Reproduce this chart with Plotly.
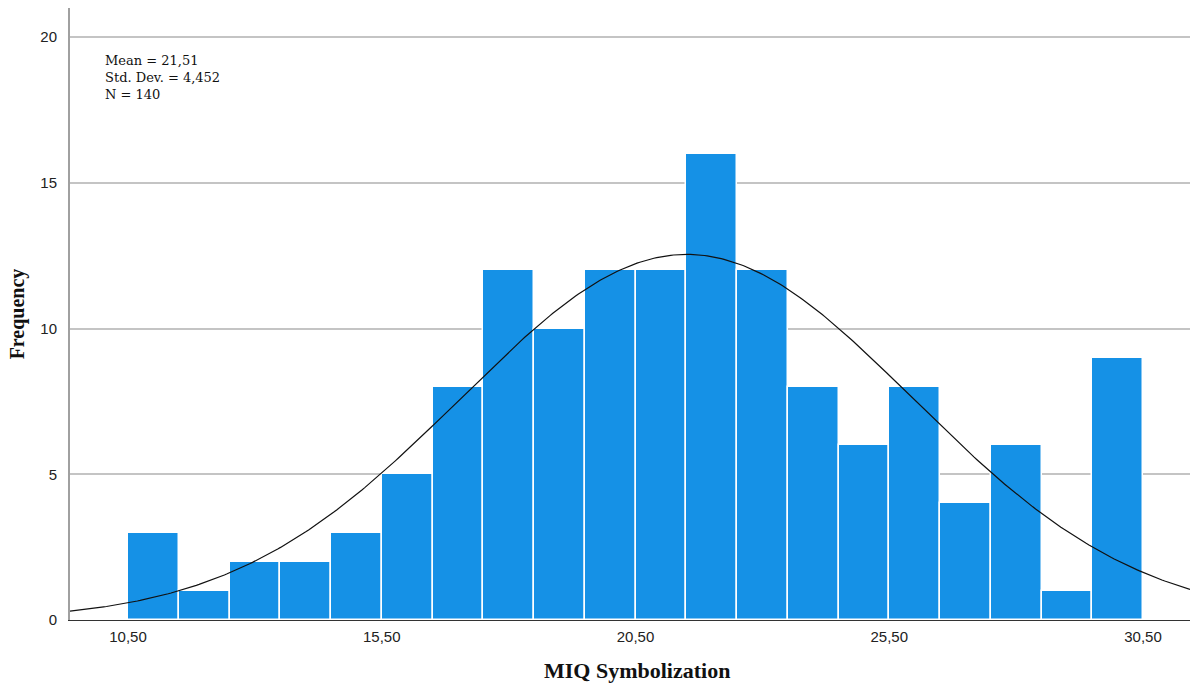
import numpy as np
import plotly.graph_objects as go

bin_centers = [11, 12, 13, 14, 15, 16, 17, 18, 19, 20, 21, 22, 23, 24, 25, 26, 27, 28, 29, 30]
counts = [3, 1, 2, 2, 3, 5, 8, 12, 10, 12, 12, 16, 12, 8, 6, 8, 4, 6, 1, 9]
mean_val = 21.51
sd_val = 4.452
n_val = 140
bin_width = 1.0
tick_vals = [10.5, 15.5, 20.5, 25.5, 30.5]
tick_text = ["10,50", "15,50", "20,50", "25,50", "30,50"]
y_ticks = [0, 5, 10, 15, 20]

x_min, x_max = 9.357, 31.426
xs = np.linspace(x_min, x_max, 400)
ys = n_val * bin_width / (sd_val * np.sqrt(2 * np.pi)) * np.exp(-0.5 * ((xs - mean_val) / sd_val) ** 2)

L, T, W, H, B = 70, 8, 1190, 684, 64
pw, ph = W - L, H - T - B

fig = go.Figure()
fig.add_trace(go.Bar(
    x=bin_centers, y=counts, width=bin_width,
    marker=dict(color="#1591E6", line=dict(color="white", width=1.5)),
    showlegend=False, hoverinfo="skip",
))
fig.add_trace(go.Scatter(
    x=xs, y=ys, mode="lines", line=dict(color="#111111", width=1.2),
    showlegend=False, hoverinfo="skip",
))

fig.update_layout(
    width=W, height=H,
    margin=dict(l=L, r=0, t=T, b=B),
    paper_bgcolor="white", plot_bgcolor="white",
    bargap=0,
    xaxis=dict(
        range=[x_min, x_max], tickvals=tick_vals, ticktext=tick_text,
        showgrid=False, zeroline=False, showline=True, linecolor="#333333", linewidth=1,
        ticks="", ticklabelstandoff=3,
        tickfont=dict(family="Liberation Sans, Arial", size=15, color="#222222"),
    ),
    yaxis=dict(
        range=[0, 21], tickvals=y_ticks, showgrid=True, gridcolor="#c4c4c4", gridwidth=1.5,
        zeroline=False, showline=True, linecolor="#a0a0a0", linewidth=2,
        ticks="", ticklabelstandoff=8,
        tickfont=dict(family="Liberation Sans, Arial", size=15, color="#222222"),
        title=dict(text="<b>Frequency</b>",
                   font=dict(family="Liberation Serif, Times New Roman", size=20, color="#111111"),
                   standoff=10),
    ),
)

fig.add_annotation(
    x=(103 - L) / pw, y=1 - (51 - T) / ph, xref="paper", yref="paper",
    xanchor="left", yanchor="top", showarrow=False, align="left",
    text="Mean = 21,51<br>Std. Dev. = 4,452<br>N = 140",
    font=dict(family="DejaVu Serif", size=13, color="#111111"),
)
fig.add_annotation(
    x=(637 - L) / pw, y=-(670 - (H - B)) / ph, xref="paper", yref="paper",
    xanchor="center", yanchor="middle", showarrow=False,
    text="<b>MIQ Symbolization</b>",
    font=dict(family="Liberation Serif, Times New Roman", size=22, color="#111111"),
)

fig.write_html("out.html", config={"displayModeBar": False},
               post_script="document.body.style.margin='0';document.body.style.overflow='hidden';")
